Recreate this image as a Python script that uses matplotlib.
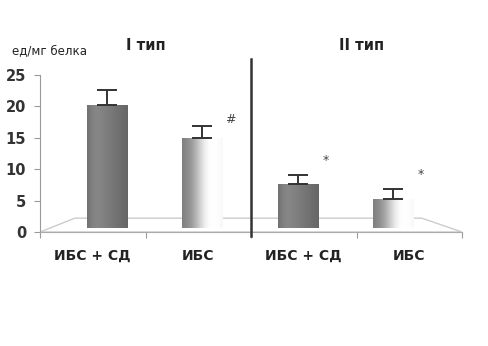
import numpy as np
import matplotlib.pyplot as plt
from matplotlib.patches import Polygon

# data
groups = ["I тип", "II тип"]
categories = ["ИБС + СД", "ИБС", "ИБС + СД", "ИБС"]
values = [20.2, 15.0, 7.7, 5.3]
errors = [2.4, 1.9, 1.3, 1.5]
marks = ["", "#", "*", "*"]
y_ticks = [0, 5, 10, 15, 20, 25]
y_label = "ед/мг белка"

fig = plt.figure(figsize=(4.88, 3.46), dpi=100)
ax = fig.add_axes([40 / 488, 114 / 346, 422 / 488, 157 / 346])
ax.set_xlim(0, 4)
ax.set_ylim(0, 25)

# 3d-ish floor
floor = Polygon([(0, 0), (0.33, 2.2), (3.62, 2.2), (4.0, 0)], closed=True,
                facecolor="white", edgecolor="#cccccc", lw=1, zorder=1)
ax.add_patch(floor)

bar_x = np.arange(4) * 0.905 + 0.635
base = 0.7
heights = [v - base for v in values]
bars = ax.bar(bar_x, heights, width=0.38, bottom=base, color="none",
              edgecolor="none", zorder=3)

# gradients: dark cylinders for +СД, light ones for ИБС
dark = np.array([0.44, 0.5, 0.53, 0.52, 0.5, 0.48, 0.46, 0.44, 0.42, 0.40])
light = np.array([0.5, 0.54, 0.6, 0.7, 0.82, 0.93, 0.99, 1.0, 0.99, 0.97])
for i, b in enumerate(bars):
    grad = dark if i % 2 == 0 else light
    x0, y0 = b.get_x(), b.get_y()
    im = ax.imshow(np.interp(np.linspace(0, 9, 100), np.arange(10), grad)[None, :],
                   cmap="gray", vmin=0, vmax=1, aspect="auto",
                   extent=[x0, x0 + b.get_width(), y0, y0 + b.get_height()],
                   interpolation="bicubic", zorder=3)
    im.set_clip_path(b)

ax.errorbar(bar_x, values, yerr=[np.zeros(4), errors], fmt="none",
            ecolor="#333333", elinewidth=1.4, capsize=7, capthick=1.4, zorder=5)

for i, m in enumerate(marks):
    if not m:
        continue
    dy = 1.0 if m == "#" else 2.4
    ax.text(bar_x[i] + 0.26, values[i] + errors[i] + dy, m, ha="center",
            va="center", fontsize=9, color="#444444")

# divider between groups
ax.plot([2.0, 2.0], [-0.7, 27.5], color="#333333", lw=1.8, clip_on=False, zorder=6)

for s in ["top", "right"]:
    ax.spines[s].set_visible(False)
ax.spines["left"].set_color("#9a9a9a")
ax.spines["bottom"].set_color("#aaaaaa")
ax.set_yticks(y_ticks)
ax.set_yticklabels([str(t) for t in y_ticks], fontsize=10.5, fontweight="bold",
                   color="#333333")
ax.tick_params(axis="y", length=4, color="#9a9a9a", pad=6)
ax.set_xticks(np.arange(5))
ax.set_xticklabels([])
ax.tick_params(axis="x", length=4, color="#9a9a9a")
ax.set_xticks(np.arange(4) + 0.5, minor=True)
ax.set_xticklabels(categories, minor=True, fontsize=10, fontweight="bold",
                   color="#222222")
ax.tick_params(axis="x", which="minor", length=0, pad=12)

for j, g in enumerate(groups):
    ax.text(1.0 + 2.05 * j, 1.19, g, transform=ax.get_xaxis_transform(),
            ha="center", va="center", fontsize=10.5, fontweight="bold",
            color="#222222")
fig.text(50 / 488, 1 - 51 / 346, y_label, ha="center", va="center",
         fontsize=8.5, color="#222222")

fig.savefig("out.png", dpi=100)
